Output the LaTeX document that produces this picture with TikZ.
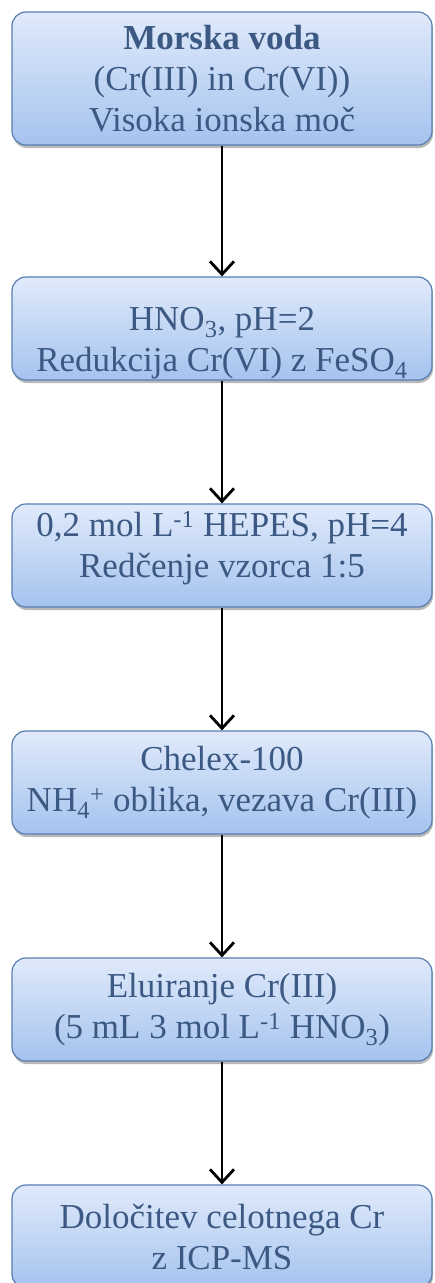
\documentclass[tikz,border=0pt]{standalone}
\usepackage{fontspec}
\setmainfont{Liberation Serif}
\usetikzlibrary{arrows.meta,shadows}

\definecolor{txtblue}{RGB}{59,89,130}
\definecolor{edgeblue}{RGB}{88,126,178}
\definecolor{topblue}{RGB}{224,234,251}
\definecolor{botblue}{RGB}{165,195,238}

\tikzstyle{procbox} = [rectangle, rounded corners=14pt, minimum width=420pt, minimum height=103pt, inner ysep=0pt, align=center, text=txtblue, font=\fontsize{35}{41}\selectfont, draw=edgeblue, line width=1.2pt, top color=topblue, bottom color=botblue, drop shadow={shadow xshift=1pt, shadow yshift=-3pt, opacity=0.55}]
\tikzstyle{flow} = [line width=2.8pt, -{Straight Barb[length=13pt, width=24pt, line width=2.8pt]}]

\begin{document}
\begin{tikzpicture}[x=1pt, y=-1pt, node distance=227pt]
        \useasboundingbox (0,0) rectangle (435,1283);

        \node (sea)   [procbox, minimum height=133pt] at (222,78.5) {\textbf{Morska voda}\\(Cr(III) in Cr(VI))\\Visoka ionska moč};
        \node (acid)  [procbox, below of=sea, yshift=-23pt] {\rule{0pt}{52pt}HNO\textsubscript{3}, pH=2\\Redukcija Cr(VI) z FeSO\textsubscript{4}};
        \node (hepes) [procbox, below of=acid] {0,2 mol L\textsuperscript{-1} HEPES, pH=4\\Redčenje vzorca 1:5\rule[-22pt]{0pt}{0pt}};
        \node (chel)  [procbox, below of=hepes] {Chelex-100\\NH\textsubscript{4}\textsuperscript{+} oblika, vezava Cr(III)};
        \node (elu)   [procbox, below of=chel] {Eluiranje Cr(III)\\(5 mL 3 mol L\textsuperscript{-1} HNO\textsubscript{3})};
        \node (icp)   [procbox, below of=elu] {Določitev celotnega Cr\\z ICP-MS};

        \draw [flow] (sea) -- (acid);
        \draw [flow] (acid) -- (hepes);
        \draw [flow] (hepes) -- (chel);
        \draw [flow] (chel) -- (elu);
        \draw [flow] (elu) -- (icp);
    \end{tikzpicture}
\end{document}
